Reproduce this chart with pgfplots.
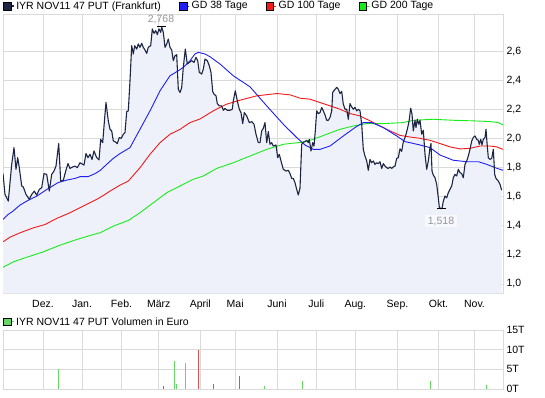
\documentclass[border=0pt]{standalone}
\usepackage{pgfplots}
\pgfplotsset{compat=1.18}
\usepackage{pgfplotstable}
\usepackage{fontspec}
\setmainfont{Liberation Sans}
\definecolor{navy}{RGB}{28,38,68}
\definecolor{fillc}{RGB}{238,241,250}
\definecolor{gdblue}{RGB}{30,30,245}
\definecolor{gdred}{RGB}{245,25,25}
\definecolor{gdgreen}{RGB}{25,235,25}
\definecolor{volgreen}{RGB}{100,215,100}
\definecolor{volred}{RGB}{220,80,80}
\definecolor{gridc}{RGB}{218,218,218}
\definecolor{annot}{RGB}{150,150,150}

\pgfplotstableread{
x y
3 1.759
5 1.616
8.3 1.57
11.7 1.823
14 1.938
16 1.789
17.7 1.869
19.3 1.8
21.7 1.674
23.3 1.667
26 1.616
29.3 1.582
31.7 1.616
34.3 1.639
36.7 1.611
39.3 1.651
41.7 1.662
44 1.759
46.7 1.754
49.3 1.639
51.7 1.754
54 1.777
56 1.811
58.7 1.966
60.7 1.708
63.3 1.713
65.7 1.777
68 1.828
70 1.795
72.7 1.805
75 1.811
77.3 1.8
80 1.834
82.7 1.823
84 1.818
86 1.897
88 1.869
90 1.892
92 1.857
94 1.915
96.7 1.869
99 1.853
100.7 1.995
102.7 1.972
104.7 2.145
106 2.248
108.3 2.122
110 2.064
111.7 2.053
113.3 1.984
115 1.979
117.3 1.966
119.3 2.007
121.3 2.002
123.3 2.03
125 2.041
126.7 2.186
128.3 2.191
130 2.398
131.7 2.639
133.3 2.582
134.7 2.639
136.7 2.616
138.3 2.651
140 2.628
141.7 2.655
143.3 2.628
145 2.609
146.7 2.586
148.3 2.628
150.7 2.639
152.3 2.754
154 2.724
155.7 2.743
157.3 2.715
159 2.754
160.7 2.731
161.7 2.768
163.3 2.731
165 2.628
166.7 2.651
168.3 2.685
170 2.628
171.7 2.609
173.3 2.536
175 2.57
176.7 2.577
178.3 2.34
180 2.317
181.7 2.352
183.3 2.49
185.3 2.616
187.3 2.513
189.3 2.524
191.7 2.536
194 2.524
196 2.559
197.7 2.536
199.3 2.455
201.7 2.444
203.3 2.478
205 2.547
207.3 2.536
209.3 2.501
211 2.455
212.7 2.324
214 2.306
216 2.294
217.3 2.241
219.3 2.225
221.7 2.225
223.3 2.195
225 2.207
227.3 2.195
230 2.195
232.3 2.202
233.3 2.26
235.3 2.329
237.3 2.26
239.3 2.202
241 2.179
242.7 2.103
244.3 2.179
246.7 2.156
249.3 2.11
251.7 2.117
254 2.099
256 2.03
258.3 1.972
260 1.972
261.7 2.053
263.3 2.071
265 2.11
266.7 1.972
268.3 2.048
270 1.961
271.7 1.972
273.3 1.949
276 1.956
277.7 1.869
279.3 1.892
281 1.846
283.3 1.789
286 1.777
288.3 1.782
290 1.759
291.7 1.726
293.3 1.726
295 1.697
296.7 1.651
298.3 1.612
300 1.66
301.7 1.961
303.3 1.975
305 1.979
306.7 1.988
308.3 1.972
309.3 1.995
311 1.915
312.7 1.972
314 1.949
315.3 2.053
316.7 2.191
318.3 2.172
320 2.179
321.7 2.214
323.3 2.191
325 2.163
326.7 2.126
328.3 2.126
330 2.145
331.7 2.191
332.7 2.317
334.3 2.333
336.7 2.352
338.3 2.34
340 2.31
341.7 2.324
343.3 2.237
345 2.202
346.7 2.202
348.3 2.133
350 2.241
351.7 2.218
353.3 2.202
355 2.214
356.7 2.191
358.3 2.202
360 2.191
361.7 2.099
363.3 1.926
365 1.88
366.7 1.846
368.3 1.782
370 1.857
371.7 1.834
373.3 1.846
375 1.823
376.7 1.834
378.3 1.828
380 1.841
381.7 1.795
383.3 1.828
385 1.811
386.7 1.8
388.3 1.795
390 1.805
391.7 1.795
393.3 1.805
395 1.811
396.7 1.864
398.3 1.869
400 1.93
401.7 1.912
403.3 1.978
405 2.007
406 2.03
407.3 2.064
409 2.117
410.7 2.209
412 2.168
413.3 2.053
415 2.126
416 2.076
417.3 2.133
418.7 2.099
420 2.126
421.7 2.03
423.3 2.057
425 1.892
426.7 1.789
428.3 1.846
430 1.938
431 1.966
432 1.777
433.3 1.749
435 1.731
436.7 1.685
438.3 1.593
439.3 1.529
440.7 1.518
442 1.52
443.3 1.57
445 1.605
446.7 1.593
448.3 1.628
450 1.651
451.7 1.674
453.3 1.731
455 1.754
456.7 1.743
458.3 1.789
460 1.766
461.7 1.759
463.3 1.731
465 1.823
466.7 1.846
468.3 1.88
470 1.926
471.7 1.984
473.3 2.007
475 2.018
476.7 1.995
478.3 1.988
479.3 1.961
480.7 1.995
482 1.956
483.3 1.995
485 2.007
486 2.064
487 1.972
488.3 1.869
490 1.857
491.7 1.864
493.3 1.926
494.7 1.754
496 1.726
498.3 1.708
500 1.685
501.7 1.645
}\price

\pgfplotstableread{
x y
3 1.444
8 1.478
13 1.501
20 1.543
28 1.575
37 1.605
47 1.651
58 1.697
67 1.715
75 1.726
80 1.738
88 1.738
95 1.759
100 1.78
106.7 1.823
113.3 1.864
120 1.897
130 1.938
140 2.064
150 2.191
160 2.329
170 2.432
178.3 2.467
183.3 2.49
190 2.536
195 2.582
198.3 2.593
205 2.582
210 2.563
220 2.513
233.3 2.432
250 2.356
266.7 2.225
283.3 2.099
296.7 2.007
305 1.956
313.3 1.926
320 1.926
330 1.949
343.3 2.018
355 2.076
363.3 2.11
371.7 2.11
383.3 2.076
396.7 2.018
405 1.979
410 1.972
420 1.956
430 1.938
440 1.887
453.3 1.851
466.7 1.841
478.3 1.841
486.7 1.823
495 1.8
503 1.782
}\gdA

\pgfplotstableread{
x y
3 1.29
10 1.322
20 1.352
33.3 1.386
45 1.409
56.7 1.451
70 1.49
83.3 1.536
96.7 1.582
105 1.616
110 1.639
120 1.68
128.3 1.708
140 1.8
150 1.892
160 1.972
170 2.03
180 2.064
190 2.11
200 2.135
213.3 2.191
226.7 2.237
240 2.264
256.7 2.294
276.7 2.31
290 2.301
300 2.278
310 2.271
320 2.248
330 2.225
340 2.202
350 2.172
360 2.156
370 2.122
380 2.087
390 2.053
400 2.022
410 2.011
420 2.002
430 1.988
440 1.966
450 1.943
460 1.929
470 1.933
480 1.949
490 1.949
496.7 1.943
503 1.926
}\gdB

\pgfplotstableread{
x y
3 1.115
13.3 1.152
26.7 1.184
43.3 1.221
60 1.267
76.7 1.306
93.3 1.34
100 1.352
113.3 1.398
128.3 1.437
140 1.49
153.3 1.559
166.7 1.628
180 1.674
193.3 1.72
203 1.742
216.7 1.795
233.3 1.834
250 1.88
266.7 1.926
283.3 1.961
302 1.975
313.3 1.995
326.7 2.03
340 2.064
353.3 2.087
366.7 2.103
383.3 2.103
403 2.11
413.3 2.126
433.3 2.133
453.3 2.126
473.3 2.122
490 2.117
498.3 2.11
503 2.094
}\gdC

\begin{document}
\begin{tikzpicture}
\path[use as bounding box] (0pt,0pt) rectangle (545pt,398pt);
\begin{axis}[
  at={(3pt,104.7pt)}, anchor=south west,
  scale only axis, width=500pt, height=279.3pt,
  xmin=3, xmax=503, ymin=0.936, ymax=2.857,
  xtick={43,82,121.5,158.7,200.3,235.2,277,316.3,355.3,397.5,438.5,474.5},
  xticklabels={Dez.,Jan.,Feb.,März,April,Mai,Juni,Juli,Aug.,Sep.,Okt.,Nov.},
  ytick={1.0,1.2,1.4,1.6,1.8,2.0,2.2,2.4,2.6},
  yticklabel pos=right,
  /pgf/number format/assume math mode=true,
  yticklabel style={/pgf/number format/.cd, use comma, fixed, fixed zerofill, precision=1},
  xticklabel style={yshift=-3pt},
  tick label style={font=\fontsize{10.5}{12}\selectfont},
  grid=major, major grid style={draw=gridc, line width=0.9pt},
  axis line style={draw=gridc, line width=0.9pt},
  major tick length=0pt,
  legend columns=4, reverse legend,
  legend style={at={(0,1.0286)}, anchor=west, draw=none, fill=none, inner sep=0pt,
    font=\fontsize{10.5}{12}\selectfont,
    nodes={inner xsep=2pt, inner ysep=0pt},
    /tikz/every even column/.append style={column sep=16pt}},
  legend cell align=left,
]
\addplot[fill=fillc, draw=none, forget plot] table[x=x,y=y]{\price} \closedcycle;
\addplot[gdgreen, line width=0.9pt, legend image code/.code={\path (0pt,0pt) -- (10pt,0pt); \draw[draw=black,fill=gdgreen,line width=0.6pt] (0pt,-3.8pt) rectangle (7.6pt,3.8pt);}] table[x=x,y=y]{\gdC};
\addlegendentry{GD 200 Tage}
\addplot[gdred, line width=0.9pt, legend image code/.code={\path (0pt,0pt) -- (10pt,0pt); \draw[draw=black,fill=gdred,line width=0.6pt] (0pt,-3.8pt) rectangle (7.6pt,3.8pt);}] table[x=x,y=y]{\gdB};
\addlegendentry{GD 100 Tage}
\addplot[gdblue, line width=0.9pt, legend image code/.code={\path (0pt,0pt) -- (10pt,0pt); \draw[draw=black,fill=gdblue,line width=0.6pt] (0pt,-3.8pt) rectangle (7.6pt,3.8pt);}] table[x=x,y=y]{\gdA};
\addlegendentry{GD 38 Tage}
\addplot[navy, line width=1.1pt, line join=round, legend image code/.code={\path (0pt,0pt) -- (10pt,0pt); \draw[draw=black,fill=navy,line width=0.6pt] (0pt,-3.8pt) rectangle (7.6pt,3.8pt);}] table[x=x,y=y]{\price};
\addlegendentry{IYR NOV11 47 PUT (Frankfurt)}
\addplot[black, line width=1pt, forget plot] coordinates {(157.3,2.768) (165.7,2.768)};
\addplot[black, line width=1pt, forget plot] coordinates {(437.3,1.518) (445.7,1.518)};
\node[text=annot, font=\fontsize{10.5}{12}\selectfont] at (axis cs:161,2.768) [yshift=7.5pt] {2,768};
\node[text=annot, fill=white, fill opacity=0.6, text opacity=1, inner xsep=3pt, inner ysep=1.5pt, font=\fontsize{10.5}{12}\selectfont] at (axis cs:441,1.518) [yshift=-12.5pt] {1,518};
\end{axis}

\begin{axis}[
  at={(3pt,9pt)}, anchor=south west,
  scale only axis, width=500pt, height=59pt,
  xmin=3, xmax=503, ymin=0, ymax=15,
  xtick={43,82,121.5,158.7,200.3,235.2,277,316.3,355.3,397.5,438.5,474.5},
  xticklabels={},
  ytick={0,5,10,15}, yticklabels={0T,5T,10T,15T},
  yticklabel pos=right,
  tick label style={font=\fontsize{10.5}{12}\selectfont},
  grid=major, major grid style={draw=gridc, line width=0.9pt},
  axis line style={draw=gridc, line width=0.9pt},
  major tick length=0pt,
  legend style={at={(0,1.136)}, anchor=west, draw=none, fill=none, inner sep=0pt,
    font=\fontsize{10.5}{12}\selectfont,
    nodes={inner xsep=2pt, inner ysep=0pt}},
  legend cell align=left,
]
\addplot[ycomb, volgreen, line width=1pt, legend image code/.code={\path (0pt,0pt) -- (10pt,0pt); \draw[draw=black,fill=volgreen,line width=0.6pt] (0pt,-3.8pt) rectangle (7.6pt,3.8pt);}] coordinates {
(58,5) (174,7) (176,1.3) (185,6.6) (264,0.8) (302,2) (430,2) (486,1)};
\addlegendentry{IYR NOV11 47 PUT Volumen in Euro}
\addplot[ycomb, volred, line width=1pt, forget plot] coordinates {
(163,0.8) (198,10) (213,1.3) (239,3.3)};
\end{axis}
\end{tikzpicture}
\end{document}
